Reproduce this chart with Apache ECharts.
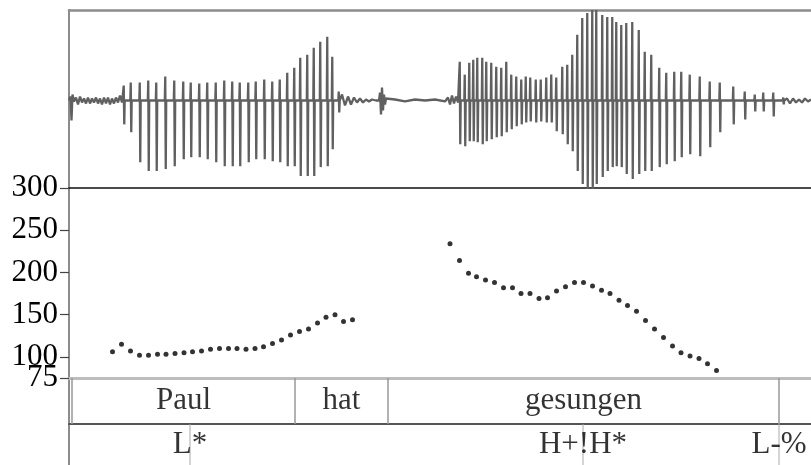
<!DOCTYPE html>
<html><head><meta charset="utf-8">
<script src="https://cdn.jsdelivr.net/npm/echarts@6/dist/echarts.min.js"></script>
<style>html,body{margin:0;padding:0;background:#fff}#c{width:811px;height:465px}</style>
</head><body><div id="c"></div><script>
// ---- time axis in ms ----
var TMAX = 1484;

// ---- waveform: glottal pulses (time, upward peak, downward peak) ----
var pulseT = [110,124,142,159,175,193,211,229,244,261,277,294,311,327,342,359,374,391,407,422,437,451,463,477,490,503,517,527,540,
  782,792,801,809,817,827,835,845,855,865,875,885,895,905,914,923,934,944,955,965,975,987,997,1007,1017,1027,1037,1047,1055,1067,1077,1087,1095,1105,1115,1127,1140,1152,1165,1181,1195,1211,1225,1242,1262,1282,1302,1329,1352,1372,1389,1409,1429];
var pulseUp = [15,18,18,20,18,24,20,19,18,17,18,18,20,19,18,18,19,21,19,21,28,33,43,46,53,59,64,44,9,
  39,26,38,41,43,43,39,38,34,33,39,26,24,21,24,23,21,21,23,26,23,34,36,46,66,83,88,91,91,86,84,84,79,76,78,79,71,49,46,33,28,29,29,26,24,19,18,14,9,6,8,8,3];
var pulseDown = [-24,-32,-62,-71,-71,-69,-66,-59,-57,-57,-59,-62,-66,-66,-66,-62,-59,-59,-61,-62,-66,-66,-76,-76,-76,-67,-66,-49,-12,
  -44,-46,-41,-41,-42,-44,-41,-39,-37,-36,-32,-29,-26,-24,-22,-21,-22,-21,-22,-22,-31,-34,-44,-51,-71,-84,-89,-89,-84,-77,-71,-67,-66,-67,-74,-79,-74,-71,-71,-67,-64,-61,-57,-54,-56,-47,-32,-24,-19,-11,-11,-16,-4];
// ---- waveform: noise / silence samples (time, amplitude) ----
var noiseT = [0,3,5,7,10,14,18,22,26,30,34,38,42,46,50,54,58,62,66,70,74,78,82,86,90,94,98,102,106,
  546,552,558,564,570,576,582,588,594,600,606,614,620,622,624,626,628,630,632,634,638,652,672,692,712,732,752,758,762,766,770,774,778,
  1436,1442,1448,1454,1460,1466,1472,1478,1484];
var noiseA = [0,4,-20,6,-1,3,-4,4,-2,2,-3,3,-3,2,-2,3,-3,2,-4,3,-3,3,-4,2,-3,3,-2,5,-2,
  6,-5,4,-4,3,-2,2,-2,1,-1,1,0,0,8,-14,13,-10,6,-4,2,0,1,-1,1,0,1,-1,3,-4,5,-3,4,-2,
  2,-3,2,-2,1,-2,2,-1,1];

// ---- pitch track (time ms, Hz) ----
var pitchT = [87,105,123,141,159,177,194,212,230,247,265,283,301,319,336,354,372,389,407,425,443,461,479,497,514,532,549,567,
  762,781,799,815,833,851,869,887,904,922,940,957,975,993,1011,1029,1047,1065,1082,1100,1117,1135,1153,1171,1189,1207,1224,1242,1260,1277,1295];
var pitchHz = [106,115,107,102,102,103,103,104,105,106,107,109,110,110,110,109,110,112,116,120,126,130,133,140,147,150,142,144,
  234,214,199,195,191,188,182,182,175,175,169,170,178,183,188,188,184,179,175,167,161,154,143,133,123,113,105,101,98,92,84];
var pitchTicks = [100,150,200,250,300];
var pitchMinTick = [75];

// ---- word tier ----
var wordBounds = [6,452,638,1420];
var words = ['Paul','hat','gesungen'];
// ---- tone tier ----
var toneT = [242,1028,1420];
var tones = ['L*','H+!H*','L-%'];

var FONT = 'Liberation Serif';
var FS = 31;
var L = 69;

var wavePts = [];
noiseT.forEach(function(t,i){ wavePts.push([t, noiseA[i]]); });
pulseT.forEach(function(t,i){
  wavePts.push([t-1.4,0],[t-0.5,pulseUp[i]],[t+0.5,pulseDown[i]],[t+1.4,0]);
});
wavePts.sort(function(a,b){return a[0]-b[0];});

function xa(gi, color, width){
  return {gridIndex:gi,type:'value',min:0,max:TMAX,position:'top',
    axisLine:{show:true,onZero:false,lineStyle:{color:color,width:width}},
    axisTick:{show:false},axisLabel:{show:false},splitLine:{show:false}};
}
function ya(gi,min,max){
  return {gridIndex:gi,type:'value',min:min,max:max,position:'left',
    axisLine:{show:true,onZero:false,lineStyle:{color:'#8c8c8c',width:2}},
    axisTick:{show:false},axisLabel:{show:false},splitLine:{show:false}};
}
function pitchAxis(vals, showLine){
  var a = ya(1,75,300);
  a.axisLine.show = showLine;
  a.axisTick = {show:true,length:9,customValues:vals,lineStyle:{color:'#444',width:1.2}};
  a.axisLabel = {show:true,customValues:vals,margin:11,color:'#000',fontFamily:FONT,fontSize:FS,
    showMinLabel:true,showMaxLabel:true,hideOverlap:false};
  return a;
}

function lineRender(color,width){
  return function(params,api){
    var p0 = api.coord([api.value(0),0]);
    var p1 = api.coord([api.value(0),1]);
    return {type:'line',shape:{x1:p0[0],y1:p0[1],x2:p1[0],y2:p1[1]},style:{stroke:color,lineWidth:width}};
  };
}
var labelStyle = {show:true,position:'inside',color:'#000',fontFamily:FONT,fontSize:FS,
  formatter:function(p){return p.data[2];}};

var option = {
  animation:false,
  backgroundColor:'#fff',
  grid:[
    {left:L,right:0,top:10,height:178},
    {left:L,right:0,top:188,height:190},
    {left:L,right:0,top:378,height:46},
    {left:L,right:0,top:424,height:54}
  ],
  xAxis:[xa(0,'#8c8c8c',2.5),xa(1,'#111',1.6),xa(2,'#bdbdbd',3),xa(3,'#555',1.8)],
  yAxis:[ya(0,-88,91),pitchAxis(pitchTicks,true),ya(2,0,1),ya(3,0,1),pitchAxis(pitchMinTick,false)],
  series:[
    {type:'line',xAxisIndex:0,yAxisIndex:0,data:wavePts,showSymbol:false,silent:true,
      lineStyle:{color:'#606060',width:2.3}},
    {type:'scatter',xAxisIndex:1,yAxisIndex:1,data:pitchT.map(function(t,i){return [t,pitchHz[i]];}),
      symbol:'circle',symbolSize:5,itemStyle:{color:'#000'},silent:true},
    {type:'custom',xAxisIndex:2,yAxisIndex:2,data:wordBounds.map(function(t){return [t,0];}),encode:{x:0,y:1},
      renderItem:lineRender('#999',1.5),silent:true},
    {type:'scatter',xAxisIndex:2,yAxisIndex:2,symbolSize:0,silent:true,
      data:words.map(function(w,i){return [(wordBounds[i]+wordBounds[i+1])/2,0.5,w];}),label:labelStyle},
    {type:'custom',xAxisIndex:3,yAxisIndex:3,data:toneT.map(function(t){return [t,0];}),encode:{x:0,y:1},
      renderItem:lineRender('#aaa',1),silent:true},
    {type:'scatter',xAxisIndex:3,yAxisIndex:3,symbolSize:0,silent:true,
      data:tones.map(function(w,i){return [toneT[i],0.5,w];}),label:labelStyle}
  ]
};
var chart = echarts.init(document.getElementById('c'), null, {renderer:'canvas'});
window.chart = chart;
chart.setOption(option);
</script></body></html>
